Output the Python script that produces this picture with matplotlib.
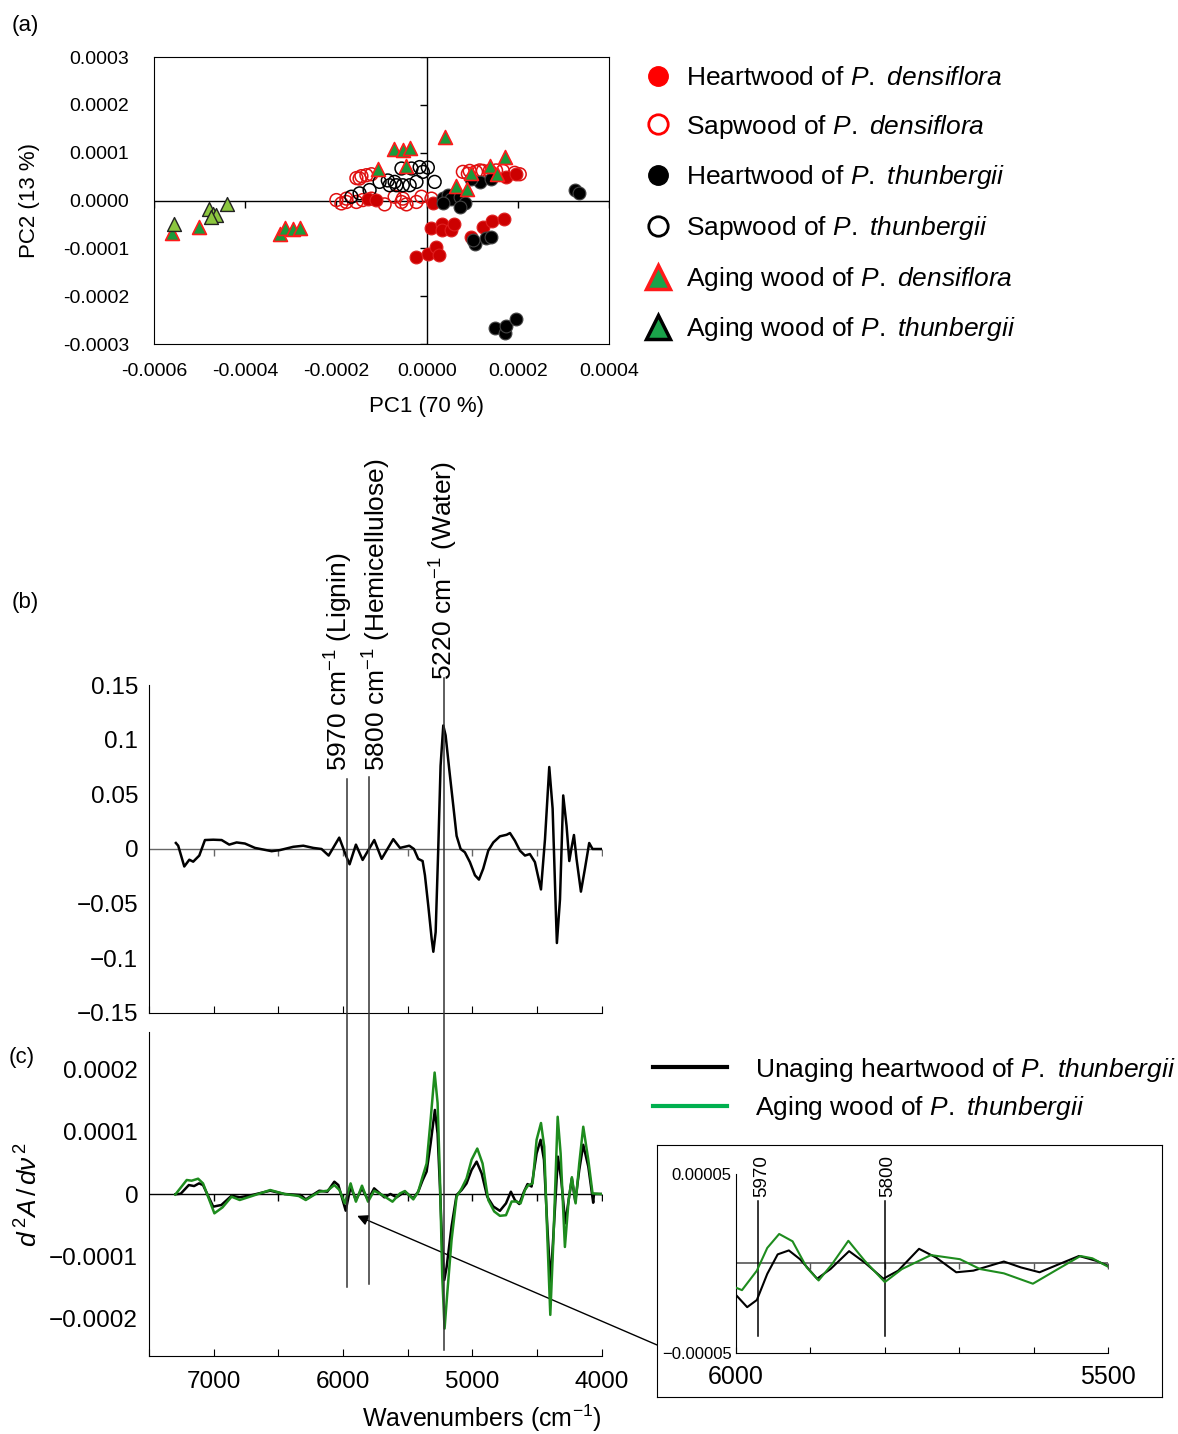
import matplotlib
matplotlib.use("Agg")

import matplotlib.pyplot as plt
from matplotlib.lines import Line2D
from matplotlib import transforms

plt.rcParams["font.family"] = ["Liberation Sans", "DejaVu Sans"]
plt.rcParams["mathtext.fontset"] = "custom"
plt.rcParams["mathtext.rm"] = "Liberation Sans"
plt.rcParams["mathtext.it"] = "Liberation Sans:italic"


# =====================================================
# DATA (a) PCA SCORES
# =====================================================

hd_x = [-1.30e-4, -1.11e-4, 0.13e-4, 0.10e-4, 0.34e-4, 0.34e-4, 0.53e-4, 0.59e-4,
        -0.23e-4, 0.02e-4, 0.21e-4, 0.26e-4, 1.23e-4, 1.44e-4, 1.69e-4, 0.97e-4,
        1.74e-4, 1.95e-4]
hd_y = [0.04e-4, 0.02e-4, -0.05e-4, -0.57e-4, -0.48e-4, -0.61e-4, -0.61e-4, -0.49e-4,
        -1.18e-4, -1.12e-4, -0.97e-4, -1.14e-4, -0.56e-4, -0.42e-4, -0.38e-4, -0.76e-4,
        0.49e-4, 0.56e-4]

sd_x = [-1.99e-4, -1.88e-4, -1.77e-4, -1.55e-4, -1.41e-4, -1.22e-4, -0.93e-4, -0.71e-4,
        -0.56e-4, -0.45e-4, -0.23e-4, -0.12e-4, 0.10e-4, -0.53e-4, -1.77e-4,
        -1.55e-4, -1.44e-4, -1.33e-4, -1.22e-4, -1.48e-4,
        0.79e-4, 0.94e-4, 1.08e-4, 1.23e-4, 1.38e-4, 1.52e-4, 1.67e-4, 2.04e-4,
        1.93e-4, 0.90e-4, 1.16e-4]
sd_y = [0.01e-4, -0.06e-4, -0.03e-4, -0.03e-4, 0.01e-4, 0.04e-4, -0.08e-4, 0.08e-4,
        -0.03e-4, -0.08e-4, -0.03e-4, 0.08e-4, 0.04e-4, 0.04e-4, 0.04e-4,
        0.47e-4, 0.51e-4, 0.53e-4, 0.55e-4, 0.46e-4,
        0.60e-4, 0.62e-4, 0.60e-4, 0.62e-4, 0.62e-4, 0.63e-4, 0.62e-4, 0.55e-4,
        0.58e-4, 0.56e-4, 0.63e-4]

ht_x = [0.35e-4, 0.46e-4, 0.53e-4, 0.72e-4, 0.83e-4, 0.72e-4, 0.35e-4, 1.16e-4,
        1.41e-4, 0.97e-4, 1.05e-4, 1.30e-4, 1.41e-4, 1.01e-4, 3.25e-4, 3.34e-4,
        1.49e-4, 1.71e-4, 1.74e-4, 1.96e-4]
ht_y = [0.06e-4, 0.11e-4, 0.04e-4, 0.08e-4, -0.06e-4, -0.13e-4, -0.06e-4, 0.39e-4,
        0.46e-4, 0.46e-4, -0.90e-4, -0.79e-4, -0.76e-4, -0.83e-4, 0.22e-4, 0.15e-4,
        -2.67e-4, -2.78e-4, -2.62e-4, -2.48e-4]

st_x = [-1.66e-4, -1.48e-4, -1.26e-4, -1.04e-4, -0.82e-4, -0.67e-4, -0.53e-4, -0.38e-4,
        -0.71e-4, -0.56e-4, -0.34e-4, -0.16e-4, 0.02e-4, -0.09e-4, 0.17e-4, -0.23e-4,
        -0.86e-4]
st_y = [0.08e-4, 0.15e-4, 0.22e-4, 0.39e-4, 0.32e-4, 0.32e-4, 0.32e-4, 0.32e-4,
        0.39e-4, 0.67e-4, 0.67e-4, 0.70e-4, 0.69e-4, 0.60e-4, 0.39e-4, 0.39e-4,
        0.42e-4]

ad_x = [-5.60e-4, -5.02e-4, -3.22e-4, -3.13e-4, -2.95e-4, -2.80e-4, -0.73e-4, -0.53e-4,
        -0.37e-4, 0.39e-4, -1.07e-4, -0.47e-4, 0.63e-4, 0.88e-4, 0.97e-4, 1.39e-4,
        1.55e-4, 1.71e-4]
ad_y = [-0.68e-4, -0.55e-4, -0.70e-4, -0.58e-4, -0.60e-4, -0.58e-4, 1.07e-4, 1.05e-4,
        1.09e-4, 1.32e-4, 0.65e-4, 0.72e-4, 0.31e-4, 0.25e-4, 0.58e-4, 0.72e-4,
        0.56e-4, 0.91e-4]

at_x = [-5.57e-4, -4.79e-4, -4.70e-4, -4.63e-4, -4.39e-4, -4.74e-4]
at_y = [-0.48e-4, -0.17e-4, -0.29e-4, -0.31e-4, -0.08e-4, -0.34e-4]

a_xticks = [-0.0006, -0.0004, -0.0002, 0.0, 0.0002, 0.0004]
a_xlabels = ["-0.0006", "-0.0004", "-0.0002", "0.0000", "0.0002", "0.0004"]
a_yticks = [-0.0003, -0.0002, -0.0001, 0.0, 0.0001, 0.0002, 0.0003]
a_ylabels = ["-0.0003", "-0.0002", "-0.0001", "0.0000", "0.0001", "0.0002", "0.0003"]

legend_a_labels = [
    r"Heartwood of $\it{P.}$ $\it{densiflora}$",
    r"Sapwood of $\it{P.}$ $\it{densiflora}$",
    r"Heartwood of $\it{P.}$ $\it{thunbergii}$",
    r"Sapwood of $\it{P.}$ $\it{thunbergii}$",
    r"Aging wood of $\it{P.}$ $\it{densiflora}$",
    r"Aging wood of $\it{P.}$ $\it{thunbergii}$",
]


# =====================================================
# DATA (b) SECOND DERIVATIVE LOADING
# =====================================================

b_wn = [7294, 7276, 7229, 7190, 7160, 7113, 7069, 7005, 6940, 6881, 6824, 6760,
        6682, 6553, 6489, 6386, 6308, 6231, 6167, 6112, 6030, 5978, 5950, 5901,
        5849, 5759, 5702, 5612,
        5560, 5488, 5452, 5419, 5385, 5367, 5341, 5315, 5302, 5284, 5264, 5246,
        5225, 5207, 5179, 5148, 5122, 5091, 5058, 5019, 4980, 4949, 4916, 4877,
        4838, 4787, 4735, 4709, 4671, 4632, 4593, 4555, 4516, 4469, 4438, 4405,
        4379, 4353, 4346, 4322, 4297, 4271, 4250, 4232, 4214, 4194, 4160, 4129,
        4096, 4070, 4000]
b_val = [0.0055, 0.003, -0.016, -0.0098, -0.0116, -0.006, 0.0082, 0.0085, 0.0082,
         0.004, 0.006, 0.005, 0.001, -0.002, -0.001, 0.002, 0.003, 0.001, 0.0,
         -0.006, 0.0104, -0.006, -0.014, 0.004, -0.010, 0.0082, -0.009, 0.009,
         0.001, 0.003, 0.0, -0.009, -0.011, -0.024, -0.052, -0.082, -0.094, -0.076,
         0.0, 0.076, 0.113, 0.104, 0.073, 0.040, 0.012, 0.0, -0.003, -0.012, -0.024,
         -0.028, -0.018, -0.0015, 0.006, 0.0116, 0.013, 0.0146, 0.0076, -0.0015,
         -0.006, -0.0046, -0.012, -0.037, 0.009, 0.075, 0.037, -0.061, -0.086,
         -0.046, 0.049, 0.021, -0.011, 0.0015, 0.0128, -0.009, -0.039, -0.018,
         0.0055, 0.0, 0.0]

b_yticks = [-0.15, -0.1, -0.05, 0.0, 0.05, 0.1, 0.15]
b_ylabels = ["\u22120.15", "\u22120.1", "\u22120.05", "0", "0.05", "0.1", "0.15"]


# =====================================================
# DATA (c) SECOND DERIVATIVE SPECTRA
# =====================================================

c_black_wn = [7298, 7257, 7194, 7153, 7115, 7084, 7005, 6942, 6863, 6800, 6705, 6564,
              6453, 6327, 6289, 6185, 6122, 6068, 6037, 5980, 5942, 5901, 5854, 5807,
              5760, 5681, 5634, 5586,
              5560, 5522, 5457, 5419, 5385, 5354, 5323, 5290, 5269, 5251, 5233, 5217,
              5199, 5161, 5122, 5083, 5045, 5006, 4967, 4928, 4885, 4838, 4787, 4740,
              4702, 4671, 4637, 4601, 4573, 4542, 4503, 4472, 4446, 4420, 4395, 4369,
              4338, 4312, 4281, 4255, 4230, 4204, 4173, 4142, 4103, 4065, 4059, 4000]
c_black_val = [-0.04e-5, 0.04e-5, 1.44e-5, 1.28e-5, 1.71e-5, 1.44e-5, -2.03e-5, -1.76e-5,
               -0.27e-5, -0.53e-5, -0.16e-5, 0.53e-5, 0.0, -0.16e-5, -0.86e-5, 0.53e-5,
               0.37e-5, 1.98e-5, 1.44e-5, -2.67e-5, 1.18e-5, -0.96e-5, 0.91e-5, -0.96e-5,
               0.91e-5, -0.53e-5, 0.0, -0.53e-5,
               -0.16e-5, 0.37e-5, -0.70e-5, 0.37e-5, 2.2e-5, 3.6e-5, 8.1e-5, 13.5e-5,
               9.7e-5, 1.2e-5, -8.5e-5, -13.8e-5, -11.7e-5, -5.2e-5, -0.16e-5, 0.64e-5,
               1.7e-5, 3.85e-5, 5.2e-5, 3.3e-5, -0.43e-5, -2.0e-5, -2.7e-5, -1.5e-5,
               0.37e-5, -0.96e-5, -1.6e-5, 0.37e-5, 1.6e-5, 1.2e-5, 6.5e-5, 8.7e-5,
               5.5e-5, -5.2e-5, -14.3e-5, -5.2e-5, 6.0e-5, 2.2e-5, -4.7e-5, -0.96e-5,
               2.5e-5, -1.2e-5, 3.85e-5, 7.9e-5, 4.4e-5, -1.4e-5, 0.0, 0.0]

c_green_wn = [7298, 7210, 7172, 7122, 7084, 6996, 6933, 6863, 6800, 6705, 6564, 6453,
              6343, 6289, 6185, 6122, 6068, 6028, 5987, 5942, 5901, 5854, 5807, 5760,
              5697, 5618,
              5560, 5522, 5457, 5419, 5385, 5354, 5323, 5292, 5269, 5251, 5233, 5215,
              5194, 5161, 5122, 5083, 5045, 5006, 4962, 4921, 4877, 4831, 4787, 4740,
              4696, 4658, 4627, 4593, 4568, 4534, 4503, 4469, 4444, 4420, 4397, 4374,
              4340, 4317, 4284, 4255, 4230, 4201, 4173, 4142, 4103, 4070, 4000]
c_green_val = [-0.7e-6, 2.25e-5, 2.14e-5, 2.46e-5, 1.71e-5, -3.1e-5, -2.14e-5, -0.43e-5,
               -0.96e-5, -0.32e-5, 0.64e-5, 0.0, -0.32e-5, -0.96e-5, 0.37e-5, 0.53e-5,
               1.44e-5, 0.64e-5, -1.5e-5, 1.71e-5, -1.23e-5, 1.34e-5, -1.23e-5, 0.53e-5,
               -0.16e-5, -1.23e-5,
               0.1e-5, 0.48e-5, -0.86e-5, 0.37e-5, 2.8e-5, 4.9e-5, 11.9e-5, 19.5e-5,
               14.6e-5, 2.8e-5, -13.3e-5, -21.6e-5, -15.9e-5, -7.4e-5, -0.43e-5, 0.9e-5,
               2.5e-5, 5.5e-5, 7.3e-5, 4.9e-5, -0.96e-5, -2.8e-5, -3.5e-5, -3.4e-5,
               -1.2e-5, -1.2e-5, -1.5e-5, 0.64e-5, 1.4e-5, 1.7e-5, 8.7e-5, 11.4e-5,
               7.6e-5, -6.8e-5, -19.4e-5, -7.9e-5, 12.4e-5, 6.5e-5, -8.5e-5, -0.96e-5,
               2.7e-5, -1.5e-5, 4.9e-5, 10.8e-5, 5.5e-5, 0.1e-5, 0.0]

c_yticks = [-0.0002, -0.0001, 0.0, 0.0001, 0.0002]
c_ylabels = ["\u22120.0002", "\u22120.0001", "0", "0.0001", "0.0002"]
wn_ticks = [7500, 7000, 6500, 6000, 5500, 5000, 4500, 4000]
wn_labels = ["", "7000", "", "6000", "", "5000", "", "4000"]

legend_c_labels = [
    r"Unaging heartwood of $\it{P.}$ $\it{thunbergii}$",
    r"Aging wood of $\it{P.}$ $\it{thunbergii}$",
]

# marker bands
band_wn = [5970, 5800, 5220]
band_labels = [
    r"5970 cm$^{-1}$ (Lignin)",
    r"5800 cm$^{-1}$ (Hemicellulose)",
    r"5220 cm$^{-1}$ (Water)",
]


# =====================================================
# DATA INSET (ZOOM 6000-5500)
# =====================================================

in_black_wn = [6000, 5985, 5972, 5958, 5944, 5929, 5914, 5891, 5873, 5848, 5827, 5802,
               5782, 5754, 5731, 5704, 5681, 5640, 5617, 5592, 5566, 5539, 5516, 5500]
in_black_val = [-1.76e-5, -2.44e-5, -2.04e-5, -0.58e-5, 0.51e-5, 0.73e-5, 0.24e-5, -0.85e-5,
                -0.31e-5, 0.69e-5, 0.05e-5, -0.85e-5, -0.40e-5, 0.82e-5, 0.33e-5, -0.49e-5,
                -0.40e-5, 0.11e-5, -0.22e-5, -0.49e-5, -0.04e-5, 0.42e-5, 0.15e-5, -0.13e-5]

in_green_wn = [6000, 5992, 5972, 5958, 5942, 5924, 5905, 5889, 5871, 5849, 5827, 5800,
               5777, 5738, 5699, 5672, 5640, 5601, 5571, 5537, 5521, 5500]
in_green_val = [-1.35e-5, -1.49e-5, -0.40e-5, 0.87e-5, 1.65e-5, 1.24e-5, -0.22e-5, -0.95e-5,
                -0.04e-5, 1.27e-5, 0.15e-5, -1.04e-5, -0.31e-5, 0.47e-5, 0.24e-5, -0.31e-5,
                -0.55e-5, -1.13e-5, -0.40e-5, 0.42e-5, 0.29e-5, -0.18e-5]

in_xticks = [6000, 5900, 5800, 5700, 5600, 5500]
in_xlabels = ["6000", "", "", "", "", "5500"]
in_yticks = [-0.00005, 0.00005]
in_ylabels = ["\u22120.00005", "0.00005"]
in_band_wn = [5970, 5800]
in_band_labels = ["5970", "5800"]


# =====================================================
# FIGURE
# =====================================================

fig = plt.figure(figsize=(11.78, 14.34), dpi=100)

GREEN_LINE = "#1e8c1e"


# ---------------- (a) ----------------

ax_a = fig.add_axes([0.1307, 0.7601, 0.3862, 0.2001])

ax_a.axhline(0, color="black", lw=1, zorder=1)
ax_a.axvline(0, color="black", lw=1, zorder=1)

ax_a.plot([0] * len(a_yticks), a_yticks, linestyle="none", marker=0,
          markersize=5, color="black", zorder=1)
ax_a.plot(a_xticks, [0] * len(a_xticks), linestyle="none", marker=3,
          markersize=5, color="black", zorder=1)

ax_a.scatter(sd_x, sd_y, s=85, facecolors="none", edgecolors="#e01010",
             linewidths=1.1, zorder=2)
ax_a.scatter(st_x, st_y, s=85, facecolors="none", edgecolors="black",
             linewidths=1.1, zorder=2)
ax_a.scatter(hd_x, hd_y, s=85, facecolors="#cc0000", edgecolors="#e02020",
             linewidths=0.8, zorder=3)
ax_a.scatter(ht_x, ht_y, s=85, facecolors="black", edgecolors="#444444",
             linewidths=0.8, zorder=3)
ax_a.scatter(ad_x, ad_y, s=100, marker="^", facecolors="#1a9a3a",
             edgecolors="#ff1a1a", linewidths=1.2, zorder=4)
ax_a.scatter(at_x, at_y, s=100, marker="^", facecolors="#8cc63f",
             edgecolors="#222222", linewidths=1.0, zorder=4)

ax_a.set_xlim(-0.0006, 0.0004)
ax_a.set_ylim(-0.0003, 0.0003)
ax_a.set_xticks(a_xticks, a_xlabels)
ax_a.set_yticks(a_yticks, a_ylabels)
ax_a.tick_params(length=0, labelsize=14)
ax_a.tick_params(axis="y", pad=18)
ax_a.tick_params(axis="x", pad=14)

ax_a.set_xlabel("PC1 (70 %)", fontsize=16)
ax_a.xaxis.set_label_coords(0.6, -0.18)
ax_a.set_ylabel("PC2 (13 %)", fontsize=16)
ax_a.yaxis.set_label_coords(-0.25, 0.5)

legend_a_handles = [
    Line2D([], [], linestyle="none", marker="o", markersize=14,
           markerfacecolor="#ff0000", markeredgecolor="#ff0000"),
    Line2D([], [], linestyle="none", marker="o", markersize=14,
           markerfacecolor="white", markeredgecolor="#ff0000", markeredgewidth=2),
    Line2D([], [], linestyle="none", marker="o", markersize=14,
           markerfacecolor="black", markeredgecolor="black"),
    Line2D([], [], linestyle="none", marker="o", markersize=14,
           markerfacecolor="white", markeredgecolor="black", markeredgewidth=2),
    Line2D([], [], linestyle="none", marker="^", markersize=17,
           markerfacecolor="#1aa34a", markeredgecolor="#ff1a1a", markeredgewidth=2.5),
    Line2D([], [], linestyle="none", marker="^", markersize=17,
           markerfacecolor="#1aa34a", markeredgecolor="black", markeredgewidth=2.5),
]

fig.legend(
    legend_a_handles,
    legend_a_labels,
    loc="upper left",
    bbox_to_anchor=(0.548, 0.954),
    frameon=False,
    fontsize=19,
    handlelength=0.95,
    handletextpad=0.6,
    labelspacing=0.86,
    borderpad=0,
    borderaxespad=0,
)


# ---------------- (b) ----------------

ax_b = fig.add_axes([0.1267, 0.2936, 0.3840, 0.2287])

ax_b.plot(b_wn, b_val, color="black", lw=1.8, zorder=3)
ax_b.axhline(0, color="#666666", lw=1, zorder=1)
ax_b.plot(wn_ticks[1:], [0] * (len(wn_ticks) - 1), linestyle="none", marker=3,
          markersize=5, color="#666666", zorder=1)

ax_b.set_xlim(7500, 4000)
ax_b.set_ylim(-0.15, 0.15)
ax_b.set_xticks(wn_ticks, [""] * len(wn_ticks))
ax_b.set_yticks(b_yticks, b_ylabels)
ax_b.tick_params(axis="x", direction="in", length=5)
ax_b.tick_params(axis="y", length=0, pad=8, labelsize=17.5)
ax_b.spines["top"].set_visible(False)
ax_b.spines["right"].set_visible(False)


# ---------------- (c) ----------------

ax_c = fig.add_axes([0.1267, 0.0544, 0.3840, 0.2259])

ax_c.plot(c_black_wn, c_black_val, color="black", lw=1.8, zorder=3)
ax_c.plot(c_green_wn, c_green_val, color=GREEN_LINE, lw=1.8, zorder=4)
ax_c.axhline(0, color="black", lw=1, zorder=1)
ax_c.plot(wn_ticks[1:], [0] * (len(wn_ticks) - 1), linestyle="none", marker=3,
          markersize=5, color="black", zorder=1)

ax_c.set_xlim(7500, 4000)
ax_c.set_ylim(-0.00026, 0.00026)
ax_c.set_xticks(wn_ticks, wn_labels)
ax_c.set_yticks(c_yticks, c_ylabels)
ax_c.tick_params(axis="x", direction="in", length=5, pad=11, labelsize=17.5)
ax_c.tick_params(axis="y", length=0, pad=8, labelsize=17.5)
ax_c.spines["top"].set_visible(False)
ax_c.spines["right"].set_visible(False)

ax_c.set_xlabel(r"Wavenumbers (cm$^{-1}$)", fontsize=18)
ax_c.xaxis.set_label_coords(0.735, -0.145)
ax_c.set_ylabel(r"$d^{\,2}A\,/\,d\nu^{\,2}$", fontsize=19)
ax_c.yaxis.set_label_coords(-0.235, 0.5)

legend_c_handles = [
    Line2D([], [], color="black", lw=3),
    Line2D([], [], color="#00b04f", lw=3),
]

fig.legend(
    legend_c_handles,
    legend_c_labels,
    loc="upper left",
    bbox_to_anchor=(0.5543, 0.2638),
    frameon=False,
    fontsize=19,
    handlelength=2.8,
    handletextpad=1.05,
    labelspacing=0.4,
    borderpad=0,
    borderaxespad=0,
)


# ---------------- band lines across (b) and (c) ----------------

band_trans = transforms.blended_transform_factory(ax_b.transData, fig.transFigure)

band_top = [0.4568, 0.4582, 0.5272]
band_bottom = [0.1025, 0.1046, 0.0586]
label_x = [6030, 5736, 5219]
label_y = [0.4623, 0.4623, 0.5258]

for wn, top, bottom, lx, ly, text in zip(band_wn, band_top, band_bottom,
                                         label_x, label_y, band_labels):

    fig.add_artist(
        Line2D([wn, wn], [top, bottom], transform=band_trans,
               color="#333333", lw=1.1)
    )

    fig.text(lx, ly, text, transform=band_trans, rotation=90,
             ha="center", va="bottom", fontsize=19)


# ---------------- inset ----------------

ax_frame = fig.add_axes([0.5577, 0.0258, 0.4287, 0.1757])
ax_frame.set_xticks([])
ax_frame.set_yticks([])

ax_in = fig.add_axes([0.6248, 0.0565, 0.3158, 0.1248])

ax_in.plot(in_black_wn, in_black_val, color="black", lw=1.5, zorder=3)
ax_in.plot(in_green_wn, in_green_val, color=GREEN_LINE, lw=1.5, zorder=4)
ax_in.axhline(0, color="#555555", lw=1.2, zorder=1)
ax_in.plot(in_xticks[1:], [0] * (len(in_xticks) - 1), linestyle="none", marker=3,
           markersize=4, color="#555555", zorder=1)

ax_in.set_xlim(6000, 5500)
ax_in.set_ylim(-0.00005, 0.00005)
ax_in.set_xticks(in_xticks, in_xlabels)
ax_in.set_yticks(in_yticks, in_ylabels)
ax_in.tick_params(axis="x", direction="in", length=4, pad=9, labelsize=18)
ax_in.tick_params(axis="y", length=0, pad=3, labelsize=12)
ax_in.spines["top"].set_visible(False)
ax_in.spines["right"].set_visible(False)
ax_in.patch.set_alpha(0)

for wn, text in zip(in_band_wn, in_band_labels):

    ax_in.plot([wn, wn], [0.000035, -0.0000404], color="black", lw=1.1, zorder=2)

    ax_in.text(wn - 4, 0.000037, text, rotation=90, ha="center", va="bottom",
               fontsize=13.5)


# ---------------- arrow ----------------

ax_c.annotate(
    "",
    xy=(5891, -0.000035),
    xycoords="data",
    xytext=(0.5577, 0.0621),
    textcoords="figure fraction",
    arrowprops=dict(arrowstyle="-|>", color="black", lw=1,
                    mutation_scale=16, shrinkA=0, shrinkB=0),
    annotation_clip=False,
)


# ---------------- panel tags ----------------

fig.text(0.010, 1 - 25 / 1434, "(a)", fontsize=16, va="center")
fig.text(0.010, 1 - 603 / 1434, "(b)", fontsize=16, va="center")
fig.text(0.007, 1 - 1057 / 1434, "(c)", fontsize=16, va="center")

fig.savefig("out.png", dpi=100)
